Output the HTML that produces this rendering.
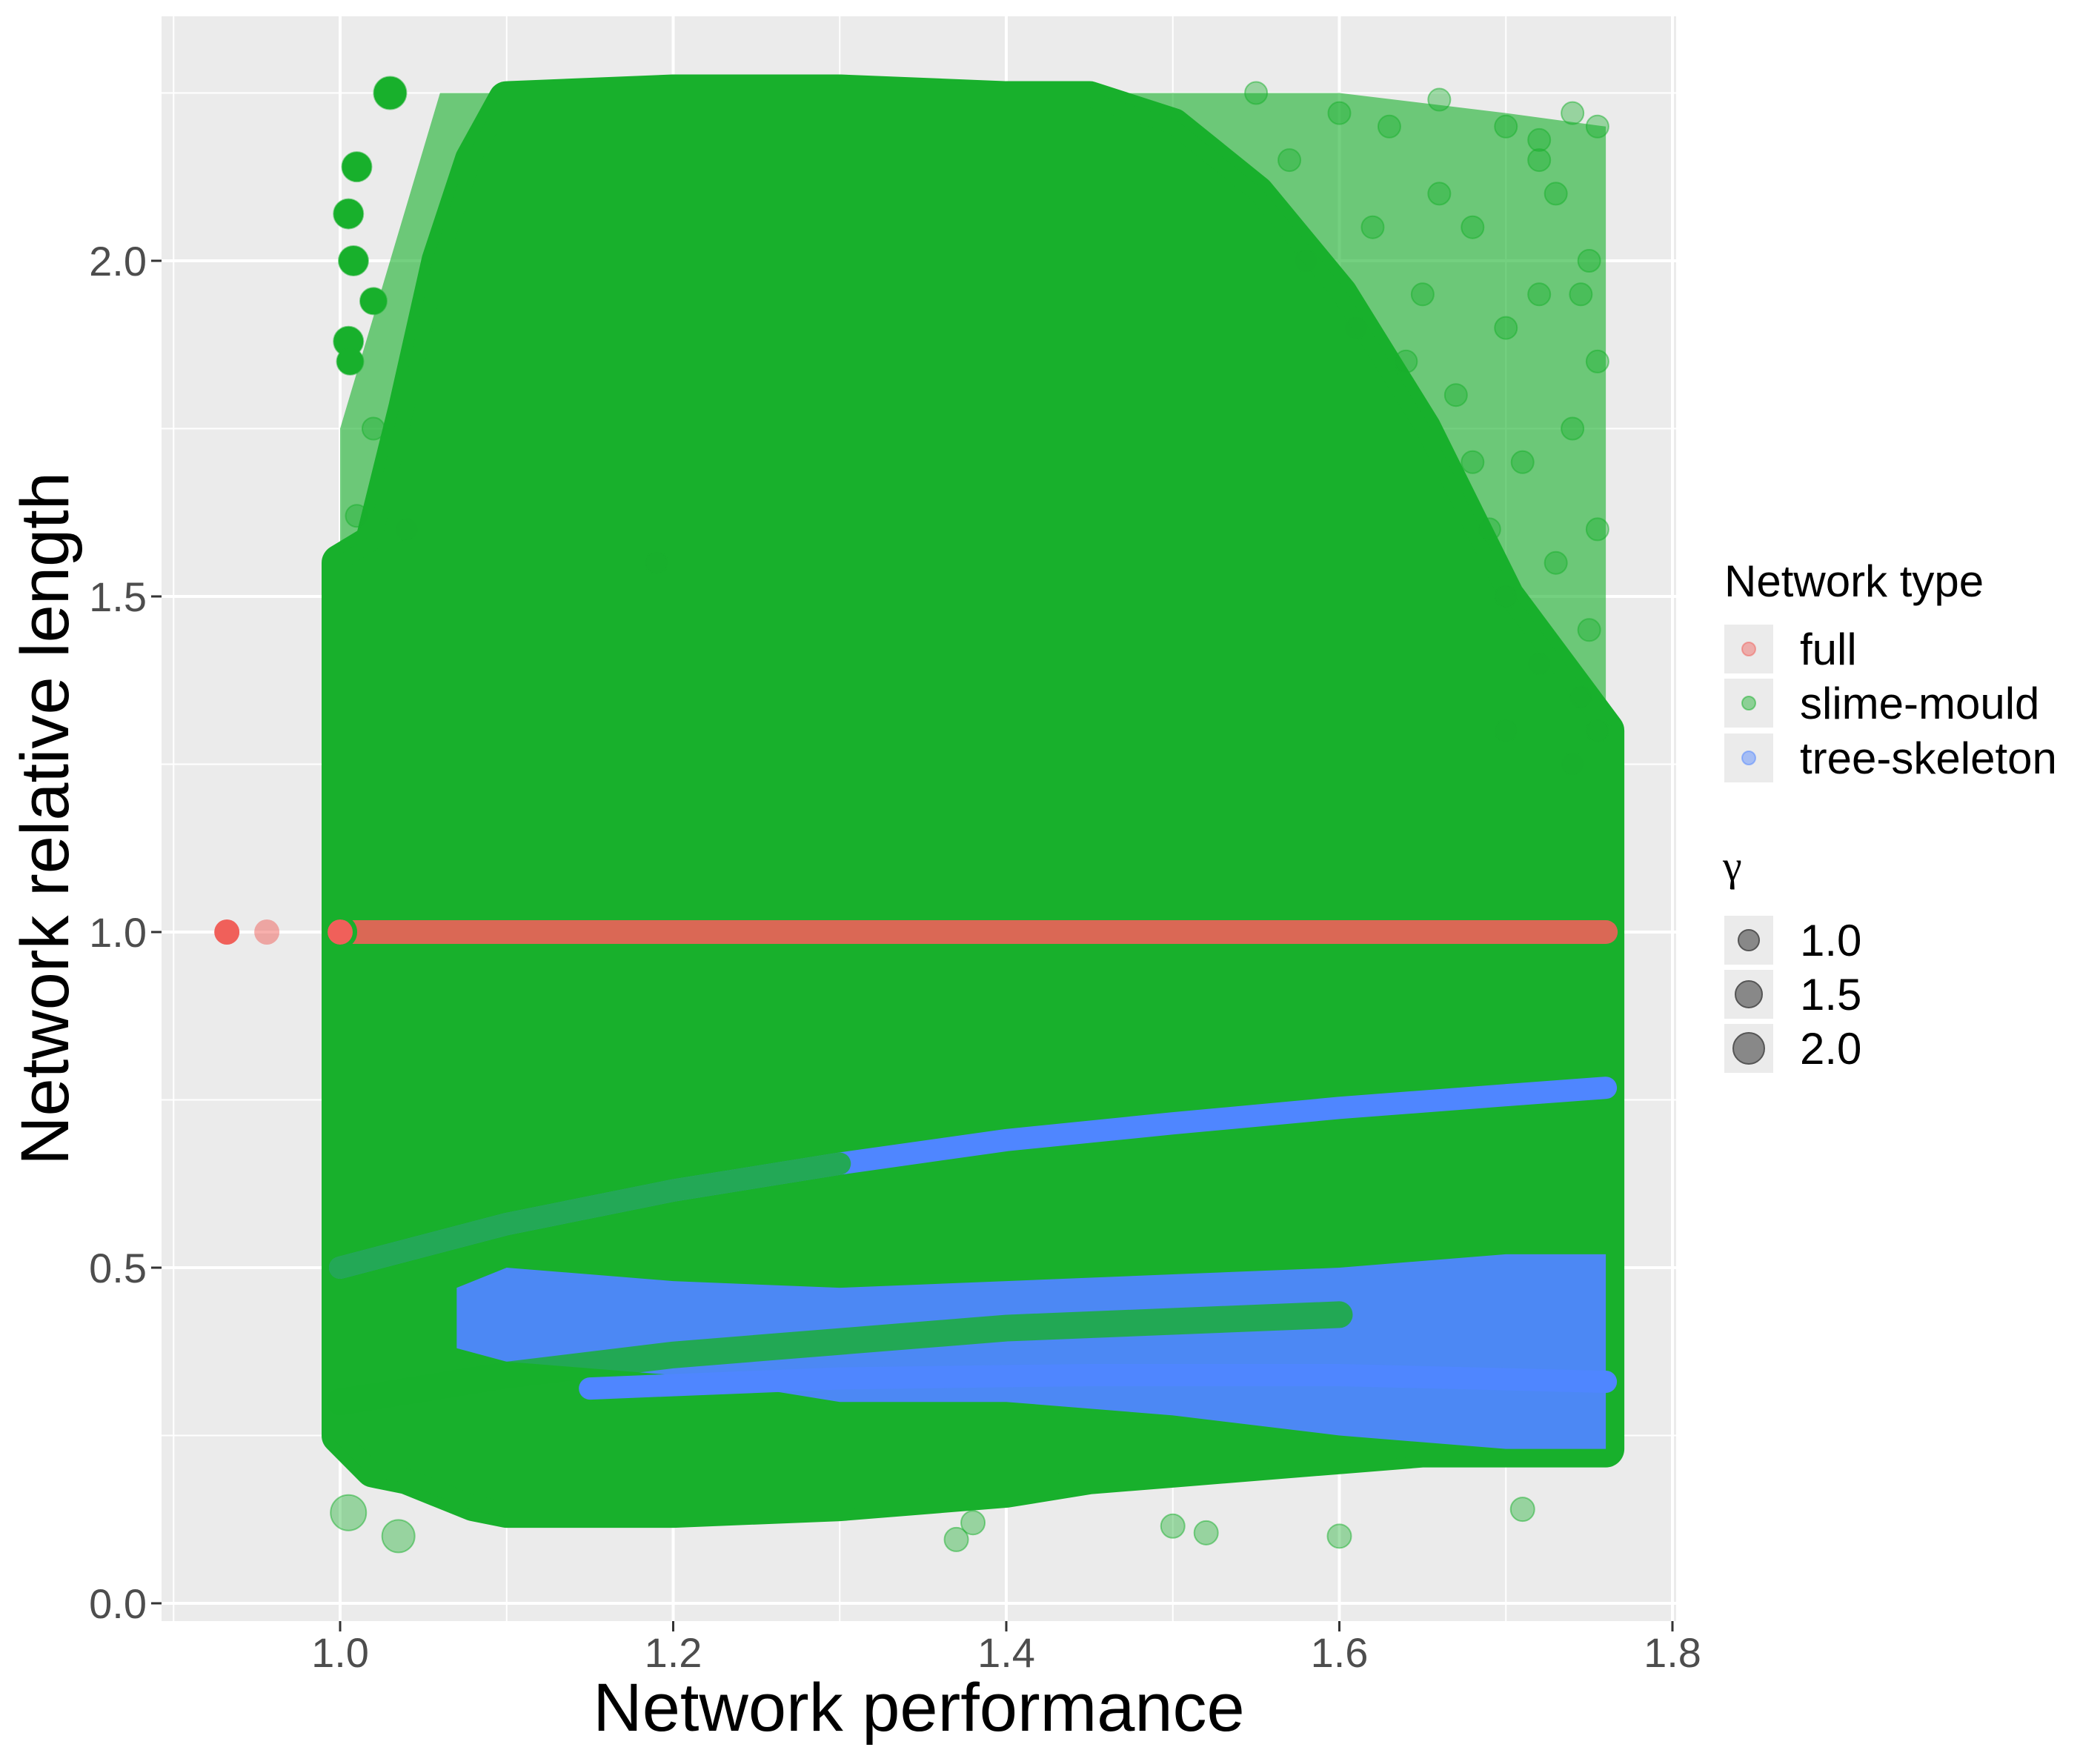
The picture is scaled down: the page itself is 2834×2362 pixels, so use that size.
<!DOCTYPE html>
<html><head><meta charset="utf-8"><style>
html,body{margin:0;padding:0;background:#fff;}
svg{display:block;font-family:"Liberation Sans",sans-serif;}
</style></head><body>
<svg id="chart" width="2834" height="2362" viewBox="0 0 2834 2362"></svg>
<script>
// ---- data arrays ----
const xTicks = [1.0, 1.2, 1.4, 1.6, 1.8];
const xTickLabels = ["1.0", "1.2", "1.4", "1.6", "1.8"];
const xMinor = [0.9, 1.1, 1.3, 1.5, 1.7];
const yTicks = [0.0, 0.5, 1.0, 1.5, 2.0];
const yTickLabels = ["0.0", "0.5", "1.0", "1.5", "2.0"];
const yMinor = [0.25, 0.75, 1.25, 1.75, 2.25];

// slime-mould dense envelope
const denseX = [1.0, 1.02, 1.04, 1.06, 1.08, 1.1, 1.2, 1.3, 1.4, 1.45, 1.5, 1.55, 1.6, 1.65, 1.7, 1.76];
const denseTop = [1.55, 1.58, 1.78, 2.0, 2.15, 2.24, 2.25, 2.25, 2.24, 2.24, 2.2, 2.1, 1.95, 1.75, 1.5, 1.3];
const denseBot = [0.25, 0.2, 0.19, 0.17, 0.15, 0.14, 0.14, 0.15, 0.17, 0.19, 0.2, 0.21, 0.22, 0.23, 0.23, 0.23];
// slime-mould sparse envelope (upper)
const sparseX = [1.0, 1.03, 1.06, 1.5, 1.6, 1.7, 1.76];
const sparseTop = [1.75, 2.0, 2.25, 2.25, 2.25, 2.22, 2.2];

// tree-skeleton upper curve
const treeCurveX = [1.0, 1.1, 1.2, 1.3, 1.4, 1.5, 1.6, 1.7, 1.76];
const treeCurveY = [0.5, 0.565, 0.615, 0.655, 0.69, 0.715, 0.738, 0.757, 0.768];
// tree-skeleton lower band
const treeBandX = [1.07, 1.1, 1.2, 1.3, 1.4, 1.5, 1.6, 1.7, 1.76];
const treeBandTop = [0.47, 0.5, 0.48, 0.47, 0.48, 0.49, 0.5, 0.52, 0.52];
const treeBandBot = [0.38, 0.36, 0.34, 0.3, 0.3, 0.28, 0.25, 0.23, 0.23];
// green band inside blue region
const greenBandX = [1.0, 1.1, 1.2, 1.3, 1.4, 1.5, 1.6];
const greenBandY = [0.3, 0.34, 0.37, 0.39, 0.41, 0.42, 0.43];
// blue strong line
const blueLineX = [1.15, 1.3, 1.45, 1.6, 1.76];
const blueLineY = [0.32, 0.335, 0.34, 0.34, 0.33];

// full network
const fullX = [0.932, 0.956, 1.0, 1.76];
const fullY = [1.0, 1.0, 1.0, 1.0];

// scattered slime-mould points
const ptX = [1.03,1.01,1.005,1.008,1.005,1.006,1.02,1.005,1.035,1.6,1.37,1.5,1.52,1.71,1.38,
 1.55,1.6,1.63,1.66,1.7,1.72,1.74,1.755,1.73,1.75,1.72,1.7,1.755,1.74,1.71,1.755,1.73,1.75,1.72,1.69,1.67,1.65,1.62,1.68,1.7,1.755,1.74,1.19,1.02,1.01,1.04,1.58,1.64,1.68,1.745,1.72,1.66,1.61,1.57,1.7,1.745];
const ptY = [2.25,2.14,2.07,2.0,1.88,1.85,1.94,0.135,0.1,0.1,0.095,0.115,0.105,0.14,0.12,
 2.25,2.22,2.2,2.24,2.2,2.18,2.22,2.2,2.1,2.0,1.95,1.9,1.85,1.75,1.7,1.6,1.55,1.45,1.4,1.6,1.8,1.95,2.05,2.05,1.3,1.3,1.25,1.55,1.75,1.62,1.6,2.0,1.85,1.7,1.95,2.15,2.1,1.9,2.15,1.5,1.35];
const ptR = [22,20,20,20,20,18,18,24,22,16,16,16,16,16,16,
 15,15,15,15,15,15,15,15,15,15,15,15,15,15,15,15,15,15,15,15,15,15,15,15,15,15,15,15,15,15,15,15,15,15,15,15,15,15,15,15,15];

// ---- scales ----
const L = 218, R = 2262, T = 22, B = 2188;
const X = v => 459 + (v - 1) * 2247.5;
const Y = v => 2164 - v * 906;
const NS = "http://www.w3.org/2000/svg";
const svg = document.getElementById('chart');
function mk(tag, attrs, parent) {
  const e = document.createElementNS(NS, tag);
  for (const k in attrs) e.setAttribute(k, attrs[k]);
  (parent || svg).appendChild(e);
  return e;
}
const GREEN = "#18b02c", BLUE = "#4f86ff", RED = "#f0605a";

const panel = mk('rect', {x: L, y: T, width: R - L, height: B - T, fill: '#ebebeb'});


xMinor.forEach(v => { mk('line', {x1: X(v), x2: X(v), y1: T, y2: B, stroke: '#fff', 'stroke-width': 2}); });
yMinor.forEach(v => { mk('line', {x1: L, x2: R, y1: Y(v), y2: Y(v), stroke: '#fff', 'stroke-width': 2}); });
xTicks.forEach(v => { mk('line', {x1: X(v), x2: X(v), y1: T, y2: B, stroke: '#fff', 'stroke-width': 4}); });
yTicks.forEach(v => { mk('line', {x1: L, x2: R, y1: Y(v), y2: Y(v), stroke: '#fff', 'stroke-width': 4}); });

function poly(xs, top, bot, fill, op, sw, name) {
  let pts = xs.map((x, i) => X(x) + ',' + Y(top[i]));
  for (let i = xs.length - 1; i >= 0; i--) pts.push(X(xs[i]) + ',' + Y(bot[i]));
  const p = mk('polygon', {points: pts.join(' '), fill: fill, 'fill-opacity': op, stroke: sw ? fill : 'none', 'stroke-width': sw, 'stroke-linejoin': 'round'});
  
  
  return p;
}
function line(xs, ys, col, w, op, name) {
  const p = mk('polyline', {points: xs.map((x, i) => X(x) + ',' + Y(ys[i])).join(' '), fill: 'none', stroke: col, 'stroke-width': w, 'stroke-linecap': 'round', 'stroke-opacity': op});
  
  
}
(function(){
  const interp = (xs, ys, v) => { for (let i = 0; i < xs.length - 1; i++) if (v <= xs[i+1]) { const t = (v - xs[i]) / (xs[i+1] - xs[i]); return ys[i] + t * (ys[i+1] - ys[i]); } return ys[ys.length-1]; };
  const bot = sparseX.map(v => Math.min(interp(denseX, denseTop, v), 2.2));
  poly(sparseX, sparseTop, bot, GREEN, 0.6, 0, 'slime-mould-sparse-region');
})();
poly(denseX, denseTop, denseBot, GREEN, 0.45, 50, 'slime-mould-halo');
poly(denseX, denseTop, denseBot, GREEN, 1, 20, 'slime-mould-dense-region');
poly(treeBandX, treeBandTop, treeBandBot, BLUE, 0.95, 0, 'tree-skeleton-lower-band');
line(greenBandX, greenBandY, GREEN, 36, 0.8, 'slime-mould-band');
line(blueLineX, blueLineY, BLUE, 30, 1, 'tree-skeleton-line');
line(treeCurveX, treeCurveY, BLUE, 30, 1, 'tree-skeleton-curve');
line(treeCurveX.slice(0, 4), treeCurveY.slice(0, 4), GREEN, 30, 0.8, 'tree-curve-overlap');

ptX.forEach((x, i) => {
  const c = mk('circle', {cx: X(x), cy: Y(ptY[i]), r: ptR[i], fill: GREEN, 'fill-opacity': i < 7 ? 1 : 0.4, stroke: GREEN, 'stroke-opacity': 0.5, 'stroke-width': 2});
  
  
});
line([fullX[2], fullX[3]], [fullY[2], fullY[3]], RED, 32, 0.9, 'full-network-line');
[0, 1, 2].forEach(i => {
  const c = mk('circle', {cx: X(fullX[i]), cy: Y(fullY[i]), r: 17, fill: RED, 'fill-opacity': i === 1 ? 0.5 : 1});
  
  
});
mk('circle', {cx: X(1.0), cy: Y(1.0), r: 20, fill: 'none', stroke: GREEN, 'stroke-width': 6});

xTicks.forEach((v, i) => {
  mk('line', {x1: X(v), x2: X(v), y1: B, y2: B + 14, stroke: '#333', 'stroke-width': 3});
  const t = mk('text', {x: X(v), y: 2250, 'text-anchor': 'middle', 'font-size': 56, fill: '#4d4d4d'});
  t.textContent = xTickLabels[i];
  
  
});
yTicks.forEach((v, i) => {
  mk('line', {x1: L - 14, x2: L, y1: Y(v), y2: Y(v), stroke: '#333', 'stroke-width': 3});
  const t = mk('text', {x: 198, y: Y(v) + 20, 'text-anchor': 'end', 'font-size': 56, fill: '#4d4d4d'});
  t.textContent = yTickLabels[i];
  
  
});
</script>
<svg style="position:absolute;left:0;top:0" width="2834" height="2362">
  <text x="1240" y="2336" text-anchor="middle" font-size="92" font-family="Liberation Sans, sans-serif" fill="#000">Network performance</text>
  <text transform="translate(92,1105) rotate(-90)" text-anchor="middle" font-size="92" font-family="Liberation Sans, sans-serif" fill="#000">Network relative length</text>
  <g font-family="Liberation Sans, sans-serif">
    <text x="2327" y="805" font-size="60" fill="#000">Network type</text>
    <rect x="2327" y="843" width="66" height="66" fill="#ebebeb"/>
    <circle cx="2360" cy="876" r="9" fill="#f0605a" fill-opacity="0.45" stroke="#f0605a" stroke-opacity="0.5" stroke-width="2"/>
    <text x="2429" y="897" font-size="60">full</text>
    <rect x="2327" y="916" width="66" height="66" fill="#ebebeb"/>
    <circle cx="2360" cy="949" r="9" fill="#18b02c" fill-opacity="0.45" stroke="#18b02c" stroke-opacity="0.5" stroke-width="2"/>
    <text x="2429" y="970" font-size="60">slime-mould</text>
    <rect x="2327" y="990" width="66" height="66" fill="#ebebeb"/>
    <circle cx="2360" cy="1023" r="9" fill="#4f86ff" fill-opacity="0.45" stroke="#4f86ff" stroke-opacity="0.5" stroke-width="2"/>
    <text x="2429" y="1044" font-size="60">tree-skeleton</text>
  </g>
  <g font-family="Liberation Sans, sans-serif">
    <text x="2325" y="1188" font-size="58" font-family="Liberation Serif, serif">γ</text>
    <rect x="2327" y="1236" width="66" height="66" fill="#ebebeb"/>
    <circle cx="2360" cy="1269" r="14" fill="#888" stroke="#555" stroke-width="2"/>
    <text x="2429" y="1290" font-size="60">1.0</text>
    <rect x="2327" y="1309" width="66" height="66" fill="#ebebeb"/>
    <circle cx="2360" cy="1342" r="18" fill="#888" stroke="#555" stroke-width="2"/>
    <text x="2429" y="1363" font-size="60">1.5</text>
    <rect x="2327" y="1382" width="66" height="66" fill="#ebebeb"/>
    <circle cx="2360" cy="1415" r="21" fill="#888" stroke="#555" stroke-width="2"/>
    <text x="2429" y="1436" font-size="60">2.0</text>
  </g>
</svg>
</body></html>
